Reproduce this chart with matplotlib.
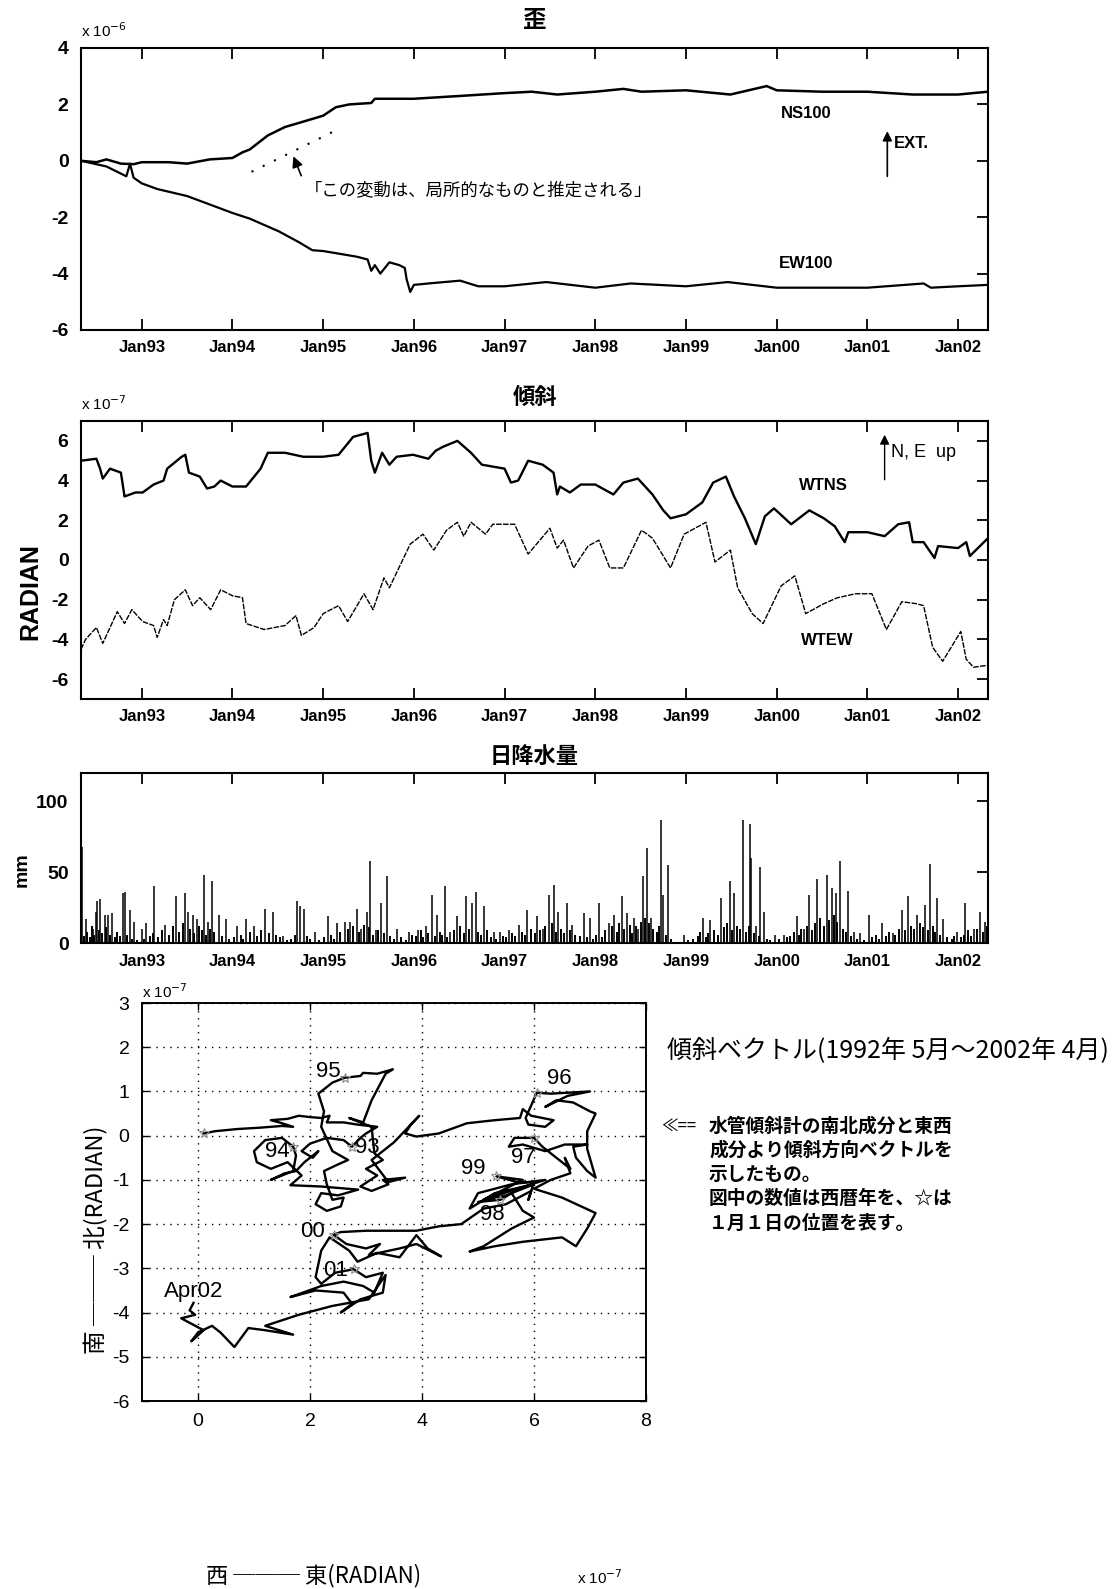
import matplotlib
matplotlib.use('Agg')
import matplotlib.pyplot as plt

JP = ['Noto Sans CJK JP', 'DejaVu Sans']
NARROW = ['Liberation Sans', 'DejaVu Sans']
plt.rcParams['font.family'] = JP
plt.rcParams['axes.unicode_minus'] = False

# ---- data ----
tick_years = [1993, 1994, 1995, 1996, 1997, 1998, 1999, 2000, 2001, 2002]
tick_labels = ['Jan93', 'Jan94', 'Jan95', 'Jan96', 'Jan97', 'Jan98', 'Jan99', 'Jan00', 'Jan01', 'Jan02']

# strain NS100 (x1e-6)
ns_t = [1992.33, 1992.50, 1992.61, 1992.77, 1992.91, 1993.00, 1993.30, 1993.50, 1993.75, 1994.00,
        1994.11, 1994.19, 1994.39, 1994.58, 1994.74, 1995.00, 1995.14, 1995.29, 1995.53, 1995.57,
        1996.00, 1996.51, 1997.00, 1997.30, 1997.58, 1998.00, 1998.31, 1998.51, 1999.00, 1999.49,
        1999.89, 2000.00, 2000.50, 2001.00, 2001.50, 2002.00, 2002.33]
ns_v = [0.0, -0.05, 0.05, -0.10, -0.12, -0.05, -0.05, -0.10, 0.05, 0.10,
        0.30, 0.40, 0.90, 1.20, 1.35, 1.60, 1.90, 2.00, 2.05, 2.20,
        2.20, 2.30, 2.40, 2.45, 2.35, 2.45, 2.55, 2.45, 2.50, 2.35,
        2.65, 2.50, 2.45, 2.45, 2.35, 2.35, 2.45]

# strain EW100 (x1e-6)
ew_t = [1992.33, 1992.61, 1992.83, 1992.87, 1992.91, 1993.00, 1993.17, 1993.50, 1994.00, 1994.19,
        1994.51, 1994.74, 1994.88, 1995.00, 1995.37, 1995.49, 1995.53, 1995.57, 1995.63, 1995.73,
        1995.84, 1995.90, 1995.92, 1995.96, 1996.00, 1996.16, 1996.51, 1996.71, 1997.00, 1997.46,
        1998.00, 1998.39, 1999.00, 1999.46, 2000.00, 2000.60, 2001.00, 2001.62, 2001.70, 2002.00,
        2002.33]
ew_v = [0.0, -0.20, -0.55, -0.10, -0.60, -0.80, -1.00, -1.25, -1.85, -2.05,
        -2.50, -2.90, -3.17, -3.20, -3.40, -3.50, -3.90, -3.70, -4.00, -3.60,
        -3.70, -3.80, -4.20, -4.65, -4.40, -4.35, -4.25, -4.45, -4.45, -4.30,
        -4.50, -4.35, -4.45, -4.30, -4.50, -4.50, -4.50, -4.35, -4.50, -4.45,
        -4.40]

# tilt WTNS (x1e-7)
wtns_t = [1992.33, 1992.50, 1992.54, 1992.57, 1992.65, 1992.77, 1992.81, 1992.93, 1993.01, 1993.13,
          1993.24, 1993.28, 1993.44, 1993.48, 1993.52, 1993.64, 1993.72, 1993.80, 1993.87, 1994.00,
          1994.15, 1994.31, 1994.39, 1994.58, 1994.78, 1995.00, 1995.17, 1995.33, 1995.49, 1995.53,
          1995.57, 1995.65, 1995.73, 1995.81, 1995.99, 1996.16, 1996.24, 1996.32, 1996.48, 1996.63,
          1996.75, 1997.00, 1997.07, 1997.15, 1997.26, 1997.42, 1997.54, 1997.58, 1997.61, 1997.72,
          1997.84, 1998.00, 1998.20, 1998.31, 1998.47, 1998.63, 1998.75, 1998.83, 1999.00, 1999.18,
          1999.30, 1999.44, 1999.53, 1999.65, 1999.77, 1999.87, 1999.97, 2000.16, 2000.36, 2000.52,
          2000.64, 2000.75, 2000.79, 2001.00, 2001.19, 2001.34, 2001.46, 2001.50, 2001.62, 2001.74,
          2001.78, 2002.00, 2002.09, 2002.13, 2002.33]
wtns_v = [5.0, 5.1, 4.6, 4.1, 4.6, 4.4, 3.2, 3.4, 3.4, 3.8,
          4.0, 4.6, 5.2, 5.3, 4.4, 4.2, 3.6, 3.7, 4.0, 3.7,
          3.7, 4.6, 5.4, 5.4, 5.2, 5.2, 5.3, 6.2, 6.4, 5.0,
          4.4, 5.4, 4.8, 5.2, 5.3, 5.1, 5.5, 5.7, 6.0, 5.4,
          4.8, 4.6, 3.9, 4.0, 5.0, 4.8, 4.4, 3.3, 3.7, 3.4,
          3.8, 3.8, 3.3, 3.9, 4.1, 3.3, 2.5, 2.1, 2.3, 2.9,
          3.9, 4.2, 3.2, 2.1, 0.8, 2.2, 2.6, 1.8, 2.5, 2.1,
          1.7, 0.9, 1.4, 1.4, 1.2, 1.8, 1.9, 0.9, 0.9, 0.1,
          0.7, 0.6, 0.9, 0.2, 1.1]

# tilt WTEW (x1e-7)
wtew_t = [1992.33, 1992.38, 1992.50, 1992.57, 1992.73, 1992.81, 1992.89, 1993.01, 1993.13, 1993.17,
          1993.24, 1993.28, 1993.36, 1993.48, 1993.56, 1993.64, 1993.76, 1993.87, 1994.00, 1994.11,
          1994.15, 1994.35, 1994.58, 1994.70, 1994.76, 1994.90, 1995.00, 1995.17, 1995.27, 1995.45,
          1995.55, 1995.67, 1995.73, 1995.96, 1996.10, 1996.22, 1996.36, 1996.48, 1996.55, 1996.63,
          1996.79, 1996.87, 1997.11, 1997.26, 1997.50, 1997.58, 1997.65, 1997.76, 1997.92, 1998.04,
          1998.16, 1998.31, 1998.51, 1998.63, 1998.83, 1998.98, 1999.22, 1999.32, 1999.49, 1999.57,
          1999.73, 1999.85, 2000.05, 2000.20, 2000.32, 2000.52, 2000.67, 2000.87, 2001.05, 2001.21,
          2001.38, 2001.54, 2001.62, 2001.72, 2001.83, 2002.03, 2002.09, 2002.17, 2002.33]
wtew_v = [-4.5, -4.0, -3.4, -4.2, -2.6, -3.2, -2.5, -3.1, -3.3, -3.9,
          -3.0, -3.3, -2.0, -1.5, -2.3, -1.9, -2.5, -1.5, -1.8, -1.9,
          -3.2, -3.5, -3.3, -2.8, -3.8, -3.4, -2.7, -2.3, -3.1, -1.7,
          -2.5, -0.9, -1.4, 0.8, 1.3, 0.5, 1.5, 1.9, 1.2, 1.9,
          1.3, 1.8, 1.8, 0.3, 1.6, 0.6, 1.0, -0.4, 0.7, 1.0,
          -0.4, -0.4, 1.5, 1.1, -0.4, 1.3, 1.9, -0.1, 0.5, -1.4,
          -2.7, -3.2, -1.3, -0.8, -2.7, -2.2, -1.9, -1.7, -1.7, -3.5,
          -2.1, -2.2, -2.3, -4.4, -5.1, -3.6, -5.0, -5.4, -5.3]

# daily rainfall, larger events (mm)
rain_t = [1992.34, 1992.38, 1992.46, 1992.49, 1992.51, 1992.54, 1992.59, 1992.63, 1992.67, 1992.79,
          1992.81, 1992.87, 1992.91, 1993.00, 1993.05, 1993.14, 1993.26, 1993.38, 1993.48, 1993.51,
          1993.56, 1993.61, 1993.69, 1993.73, 1993.77, 1993.85, 1993.93, 1994.05, 1994.15, 1994.24,
          1994.36, 1994.45, 1994.56, 1994.71, 1994.75, 1994.79, 1994.91, 1995.05, 1995.15, 1995.24,
          1995.30, 1995.37, 1995.42, 1995.48, 1995.52, 1995.58, 1995.64, 1995.70, 1995.81, 1995.95,
          1996.05, 1996.13, 1996.20, 1996.26, 1996.34, 1996.40, 1996.48, 1996.58, 1996.64, 1996.68,
          1996.77, 1996.88, 1996.95, 1997.05, 1997.16, 1997.25, 1997.36, 1997.42, 1997.49, 1997.54,
          1997.59, 1997.69, 1997.74, 1997.88, 1997.94, 1998.04, 1998.15, 1998.21, 1998.29, 1998.35,
          1998.43, 1998.47, 1998.53, 1998.57, 1998.61, 1998.72, 1998.75, 1998.80, 1998.98, 1999.19,
          1999.27, 1999.39, 1999.49, 1999.53, 1999.63, 1999.71, 1999.72, 1999.77, 1999.82, 1999.86,
          1999.98, 2000.08, 2000.22, 2000.30, 2000.36, 2000.45, 2000.55, 2000.61, 2000.65, 2000.70,
          2000.79, 2000.85, 2000.92, 2001.02, 2001.16, 2001.28, 2001.38, 2001.45, 2001.55, 2001.64,
          2001.69, 2001.77, 2001.83, 2001.99, 2002.08, 2002.18, 2002.24, 2002.30]
rain_mm = [68, 17, 10, 22, 30, 31, 20, 20, 21, 35,
           36, 23, 15, 10, 14, 40, 13, 33, 35, 22,
           20, 17, 48, 15, 44, 20, 17, 12, 17, 12,
           24, 22, 5, 30, 26, 24, 8, 19, 14, 15,
           15, 24, 10, 22, 58, 9, 28, 47, 10, 8,
           9, 12, 34, 20, 40, 8, 19, 33, 28, 36,
           26, 8, 8, 9, 13, 23, 19, 10, 34, 41,
           22, 28, 13, 21, 18, 28, 14, 20, 33, 21,
           18, 10, 47, 67, 18, 87, 34, 55, 6, 18,
           16, 32, 44, 35, 87, 84, 60, 12, 54, 22,
           6, 6, 19, 10, 34, 45, 48, 39, 35, 58,
           37, 8, 7, 20, 14, 7, 23, 33, 20, 27,
           56, 32, 17, 8, 28, 10, 22, 15]

# daily rainfall, small events (mm)
drizzle_t = [1992.36, 1992.40, 1992.43, 1992.45, 1992.47, 1992.53, 1992.56, 1992.61, 1992.65, 1992.70,
             1992.73, 1992.76, 1992.84, 1992.89, 1992.95, 1993.03, 1993.09, 1993.12, 1993.18, 1993.22,
             1993.30, 1993.34, 1993.41, 1993.45, 1993.53, 1993.58, 1993.63, 1993.66, 1993.71, 1993.75,
             1993.80, 1993.88, 1993.96, 1994.02, 1994.09, 1994.12, 1994.19, 1994.27, 1994.31, 1994.40,
             1994.48, 1994.52, 1994.60, 1994.65, 1994.69, 1994.82, 1994.86, 1994.95, 1995.01, 1995.09,
             1995.12, 1995.19, 1995.27, 1995.33, 1995.40, 1995.45, 1995.50, 1995.55, 1995.61, 1995.67,
             1995.74, 1995.78, 1995.86, 1995.91, 1995.98, 1996.02, 1996.08, 1996.10, 1996.16, 1996.23,
             1996.29, 1996.31, 1996.37, 1996.44, 1996.51, 1996.55, 1996.61, 1996.71, 1996.74, 1996.81,
             1996.85, 1996.91, 1996.98, 1997.02, 1997.08, 1997.12, 1997.19, 1997.22, 1997.29, 1997.33,
             1997.39, 1997.45, 1997.52, 1997.57, 1997.62, 1997.66, 1997.72, 1997.78, 1997.83, 1997.91,
             1997.97, 1998.01, 1998.07, 1998.11, 1998.18, 1998.24, 1998.26, 1998.32, 1998.38, 1998.41,
             1998.45, 1998.50, 1998.55, 1998.59, 1998.64, 1998.68, 1998.70, 1998.78, 1998.83, 1999.02,
             1999.08, 1999.13, 1999.16, 1999.22, 1999.24, 1999.31, 1999.35, 1999.42, 1999.45, 1999.51,
             1999.56, 1999.60, 1999.66, 1999.69, 1999.75, 1999.80, 1999.89, 1999.93, 2000.03, 2000.11,
             2000.15, 2000.19, 2000.25, 2000.27, 2000.33, 2000.39, 2000.42, 2000.48, 2000.52, 2000.58,
             2000.63, 2000.67, 2000.73, 2000.76, 2000.82, 2000.89, 2000.96, 2001.05, 2001.09, 2001.13,
             2001.20, 2001.24, 2001.31, 2001.35, 2001.41, 2001.48, 2001.51, 2001.58, 2001.61, 2001.67,
             2001.72, 2001.75, 2001.80, 2001.88, 2001.93, 2001.96, 2002.03, 2002.06, 2002.11, 2002.14,
             2002.21, 2002.27, 2002.32]
drizzle_mm = [5, 8, 4, 12, 6, 9, 7, 11, 6, 4,
              8, 5, 6, 3, 2, 3, 5, 7, 4, 9,
              6, 12, 8, 14, 10, 7, 12, 9, 6, 10,
              8, 5, 3, 4, 6, 3, 8, 5, 9, 7,
              6, 4, 2, 3, 6, 5, 3, 2, 4, 6,
              3, 8, 10, 12, 8, 13, 11, 6, 9, 7,
              5, 3, 4, 2, 6, 5, 9, 4, 7, 5,
              8, 6, 4, 9, 12, 7, 10, 8, 6, 9,
              4, 3, 5, 4, 7, 5, 8, 6, 10, 7,
              9, 12, 14, 8, 10, 7, 9, 6, 5, 4,
              3, 6, 4, 9, 12, 8, 14, 10, 13, 7,
              12, 15, 18, 14, 10, 8, 12, 6, 3, 2,
              3, 5, 8, 4, 7, 9, 6, 11, 14, 9,
              12, 10, 8, 12, 7, 5, 3, 2, 3, 4,
              5, 8, 6, 10, 12, 9, 14, 18, 12, 16,
              20, 15, 10, 8, 5, 3, 2, 4, 6, 3,
              5, 8, 6, 10, 9, 12, 10, 14, 11, 9,
              12, 8, 6, 4, 3, 5, 4, 6, 9, 5,
              10, 8, 12]

# tilt vector path (EW, NS) x1e-7
vec_x = [0.10, 0.30, 0.70, 1.10, 1.50, 1.70, 1.45, 1.30, 1.60, 1.80, 2.00, 2.20, 2.35, 2.30, 2.60, 2.85,
         3.20, 3.00, 2.90, 2.75,
         2.60, 2.30, 2.00, 1.85, 2.05, 2.15, 1.90, 1.75, 1.55, 1.30, 1.70, 1.75, 1.70,
         1.50, 1.20, 1.00, 1.05, 1.30, 1.60, 1.85, 1.65, 2.20, 2.86, 2.50, 2.20, 2.10, 2.30, 2.55, 2.60,
         2.40, 2.30, 2.25, 2.50, 2.68, 2.40, 2.20, 2.25, 2.15, 2.40, 2.62,
         2.90, 2.95, 3.20, 3.48, 3.35, 3.10, 2.95, 2.70, 3.10, 3.15, 3.30, 3.00, 3.20, 2.90, 3.10, 3.40,
         3.30, 3.70, 3.40, 3.10, 3.50, 3.95, 3.80, 3.70, 3.90, 4.30, 4.80, 5.30, 5.75, 5.80, 5.95, 6.35,
         6.20, 5.90, 5.85, 6.05,
         6.30, 6.70, 7.00, 6.60, 6.20, 6.40, 6.70, 7.00, 7.10, 6.95, 6.95, 7.10, 6.95, 6.75, 6.70, 6.95,
         6.55, 6.20, 5.80, 5.55, 5.65, 6.00,
         6.15, 6.40, 6.65, 6.55, 6.65, 6.30, 6.00, 6.50, 7.10, 6.95, 6.75, 6.50, 5.80, 5.30, 4.85, 5.10,
         5.60, 6.00, 5.80, 5.60, 5.40,
         5.00, 5.50, 6.00, 5.30, 4.85, 5.00, 5.60, 6.20, 5.70, 5.10, 5.80, 5.33,
         5.70, 6.00, 5.90, 5.95, 5.50, 5.10, 4.70, 4.30, 3.90, 3.50, 3.00, 2.55, 2.42,
         2.65, 3.00, 3.25, 3.05, 3.60, 3.90, 4.34, 4.10, 3.90, 3.60, 3.20, 2.85, 2.70, 2.35, 2.20, 2.10,
         2.20, 2.45, 2.78,
         3.00, 3.30, 3.15, 2.95, 2.60, 2.20, 1.65, 2.10, 2.60, 2.75, 2.55, 2.90, 3.30, 3.35, 3.05, 2.40,
         1.80, 1.20, 1.45, 1.70, 1.20, 0.90, 0.65, 0.40, 0.25, 0.00, -0.12, 0.10, -0.30, -0.05, -0.15,
         -0.08]
vec_y = [0.05, 0.10, 0.15, 0.18, 0.22, 0.20, 0.30, 0.35, 0.38, 0.45, 0.42, 0.40, 0.45, 0.30, 0.30, 0.25,
         0.20, 0.05, -0.05, -0.25,
         -0.10, -0.05, -0.18, -0.35, -0.50, -0.35, -0.60, -0.80, -0.85, -1.00, -0.80, -0.45, -0.25,
         -0.05, -0.10, -0.35, -0.60, -0.75, -0.60, -0.90, -1.12, -1.15, -1.22, -1.35, -1.30, -1.55, -1.70,
         -1.60, -1.40,
         -1.45, -1.10, -0.80, -0.65, -0.55, -0.35, 0.20, 0.55, 0.95, 1.20, 1.31,
         1.35, 1.42, 1.40, 1.50, 1.40, 0.80, 0.30, 0.40, 0.20, -0.40, -0.55, -0.75, -0.90, -1.15, -1.25,
         -1.10, -1.00, -0.95, -1.05, -0.55, -0.15, 0.45, 0.25, 0.05, -0.02, 0.05, 0.28, 0.35, 0.40, 0.60,
         0.45, 0.35, 0.20, 0.25, 0.40, 0.97,
         0.95, 0.98, 1.00, 0.90, 0.65, 0.80, 0.75, 0.55, 0.50, 0.10, -0.30, -0.95, -0.80, -0.50, -0.25,
         -0.20, -0.20, -0.35, -0.20, -0.25, -0.05, -0.05,
         -0.25, -0.50, -0.75, -0.50, -0.85, -1.00, -1.20, -1.40, -1.75, -2.10, -2.50, -2.30, -2.40, -2.50,
         -2.62, -2.50, -2.10, -1.85, -1.70, -1.30, -1.45,
         -1.50, -1.35, -1.10, -1.30, -1.65, -1.30, -1.10, -1.00, -1.20, -1.45, -1.00, -0.92,
         -1.05, -1.05, -1.45, -1.25, -1.55, -1.65, -2.00, -2.05, -2.15, -2.15, -2.15, -2.18, -2.24,
         -2.45, -2.55, -2.45, -2.70, -2.55, -2.45, -2.73, -2.55, -2.25, -2.75, -2.65, -2.85, -2.60, -2.30,
         -2.60, -3.20, -3.35, -3.10, -3.02,
         -3.20, -3.10, -3.55, -3.40, -3.30, -3.40, -3.65, -3.50, -3.55, -3.80, -4.00, -3.70, -3.55, -3.15,
         -3.70, -3.85, -4.05, -4.30, -4.40, -4.50, -4.40, -4.35, -4.78, -4.45, -4.30, -4.45, -4.65, -4.40,
         -4.13, -4.05, -3.95, -3.78]

# Jan 1 positions (stars) and year labels
star_x = [0.10, 2.75, 1.70, 2.62, 6.05, 6.00, 5.40, 5.33, 2.42, 2.78]
star_y = [0.05, -0.25, -0.25, 1.31, 0.97, -0.05, -1.45, -0.92, -2.24, -3.02]
yr_names = ['95', '96', '94', '93', '99', '97', '98', '00', '01', 'Apr02']
yr_x = [2.32, 6.46, 1.41, 3.02, 4.92, 5.81, 5.26, 2.04, 2.45, -0.08]
yr_y = [1.46, 1.29, -0.35, -0.26, -0.75, -0.50, -1.79, -2.16, -3.05, -3.53]

W, H = 1120, 1589
fig = plt.figure(figsize=(W / 100, H / 100), dpi=100)


def box(x0, y0, x1, y1):
    # pixel box (top-left origin) -> figure fraction rect
    return [x0 / W, 1 - y1 / H, (x1 - x0) / W, (y1 - y0) / H]


def time_axis(ax, ylim, yticks):
    ax.set_xlim(1992.33, 2002.33)
    ax.set_ylim(*ylim)
    ax.set_xticks(tick_years)
    ax.set_xticklabels(tick_labels, family=NARROW, fontweight='bold', fontsize=12)
    ax.set_yticks(yticks)
    ax.set_yticklabels([str(v) for v in yticks], family=NARROW, fontweight='bold', fontsize=14)
    ax.tick_params(direction='in', top=True, right=True, left=False, length=8, width=1.3)
    ax.tick_params(axis='x', pad=7)
    ax.tick_params(axis='y', pad=9)
    for s in ax.spines.values():
        s.set_linewidth(1.5)


# ---- strain ----
ax1 = fig.add_axes(box(81, 48, 988, 330))
ax1.plot(ns_t, ns_v, color='k', lw=1.8)
ax1.plot(ew_t, ew_v, color='k', lw=1.6)
time_axis(ax1, (-6, 4), [-6, -4, -2, 0, 2, 4])
ax1.text(0.5, 1.075, '歪', transform=ax1.transAxes, ha='center', fontsize=17, family=JP,
         fontweight='bold')
ax1.text(0.0, 1.04, r'x 10$^{-6}$', transform=ax1.transAxes, fontsize=11, family=NARROW)
ax1.text(2000.32, 1.68, 'NS100', ha='center', va='center', fontsize=12, family=NARROW, fontweight='bold')
ax1.text(2000.32, -3.65, 'EW100', ha='center', va='center', fontsize=12, family=NARROW, fontweight='bold')
ax1.annotate('', xy=(2001.22, 1.15), xytext=(2001.22, -0.65),
             arrowprops=dict(arrowstyle='-|>', color='k', lw=1.2, mutation_scale=14))
ax1.text(2001.29, 0.6, 'EXT.', va='center', fontsize=12, family=NARROW, fontweight='bold')
ax1.plot([1994.21, 1995.16], [-0.39, 1.11], color='k', lw=1.5, ls=(0, (1, 5)))
ax1.annotate('', xy=(1994.66, 0.25), xytext=(1994.77, -0.62),
             arrowprops=dict(arrowstyle='-|>', color='k', lw=1.2, mutation_scale=16))
ax1.text(1994.80, -1.04, '「この変動は、局所的なものと推定される」', va='center', fontsize=12.5, family=JP)

# ---- tilt ----
ax2 = fig.add_axes(box(81, 421, 988, 699))
ax2.plot(wtns_t, wtns_v, color='k', lw=1.7)
ax2.plot(wtew_t, wtew_v, color='k', lw=1.0, ls=(0, (4, 1)))
time_axis(ax2, (-7, 7), [-6, -4, -2, 0, 2, 4, 6])
ax2.text(0.5, 1.06, '傾斜', transform=ax2.transAxes, ha='center', fontsize=16, family=JP,
         fontweight='bold')
ax2.text(0.0, 1.04, r'x 10$^{-7}$', transform=ax2.transAxes, fontsize=11, family=NARROW)
ax2.text(2000.52, 3.74, 'WTNS', ha='center', va='center', fontsize=12, family=NARROW, fontweight='bold')
ax2.text(2000.56, -4.06, 'WTEW', ha='center', va='center', fontsize=12, family=NARROW, fontweight='bold')
ax2.annotate('', xy=(2001.19, 6.45), xytext=(2001.19, 3.9),
             arrowprops=dict(arrowstyle='-|>', color='k', lw=1.0, mutation_scale=14))
ax2.text(2001.26, 5.4, 'N, E  up', va='center', fontsize=13, family=NARROW)
fig.text(30 / W, 1 - 592 / H, 'RADIAN', rotation=90, ha='center', va='center',
         fontsize=18, family=NARROW, fontweight='bold')

# ---- rainfall ----
ax3 = fig.add_axes(box(81, 773, 988, 943))
ax3.vlines(drizzle_t, 0, drizzle_mm, color='k', lw=1.4)
ax3.vlines(rain_t, 0, rain_mm, color='k', lw=1.1)
time_axis(ax3, (0, 120), [0, 50, 100])
ax3.tick_params(axis='x', bottom=False, pad=8)
ax3.text(0.5, 1.06, '日降水量', transform=ax3.transAxes, ha='center', fontsize=16, family=JP,
         fontweight='bold')
fig.text(22 / W, 1 - 870 / H, 'mm', rotation=90, ha='center', va='center',
         fontsize=14, family=NARROW, fontweight='bold')

# ---- tilt vector ----
ax4 = fig.add_axes(box(142, 1003, 646, 1401))
ax4.plot(vec_x, vec_y, color='k', lw=1.7)
ax4.plot(star_x, star_y, '*', color='0.55', ms=7, mfc='none', mew=0.8)
for name, x, y in zip(yr_names, yr_x, yr_y):
    ax4.text(x, y, name, ha='center', va='center', fontsize=16, family=NARROW)
ax4.set_xlim(-1, 8)
ax4.set_ylim(-6, 3)
ax4.set_xticks([0, 2, 4, 6, 8])
ax4.set_yticks([-6, -5, -4, -3, -2, -1, 0, 1, 2, 3])
ax4.set_xticklabels(['0', '2', '4', '6', '8'], family=NARROW, fontsize=14)
ax4.set_yticklabels(['-6', '-5', '-4', '-3', '-2', '-1', '0', '1', '2', '3'], family=NARROW, fontsize=14)
ax4.tick_params(direction='in', top=True, right=True, length=5, width=1.0, pad=9)
ax4.grid(True, ls=(0, (1, 4)), color='k', lw=1.0)
for s in ax4.spines.values():
    s.set_linewidth(1.4)
ax4.text(0.0, 1.012, r'x 10$^{-7}$', transform=ax4.transAxes, fontsize=11, family=NARROW)
fig.text(314 / W, 1 - 1576 / H, '西 ─── 東(RADIAN)', ha='center', va='center', fontsize=16, family=JP)
fig.text(600 / W, 1 - 1578 / H, r'x 10$^{-7}$', ha='center', va='center', fontsize=11, family=NARROW)
fig.text(96 / W, 1 - 1240 / H, '南 ─── 北(RADIAN)', rotation=90, ha='center', va='center',
         fontsize=17, family=JP)

# ---- notes on the right ----
fig.text(667 / W, 1 - 1051 / H, '傾斜ベクトル(1992年 5月～2002年 4月)', va='center', fontsize=18, family=JP)
notes = ['水管傾斜計の南北成分と東西', '成分より傾斜方向ベクトルを', '示したもの。',
         '図中の数値は西暦年を、☆は', '１月１日の位置を表す。']
fig.text(661 / W, 1 - 1126 / H, '≪==', va='center', fontsize=12, family=JP)
for i, line in enumerate(notes):
    fig.text(709 / W, 1 - (1126 + 24.3 * i) / H, line, va='center', fontsize=13.5,
             family=JP, fontweight='bold')

fig.savefig('out.png', dpi=100)
